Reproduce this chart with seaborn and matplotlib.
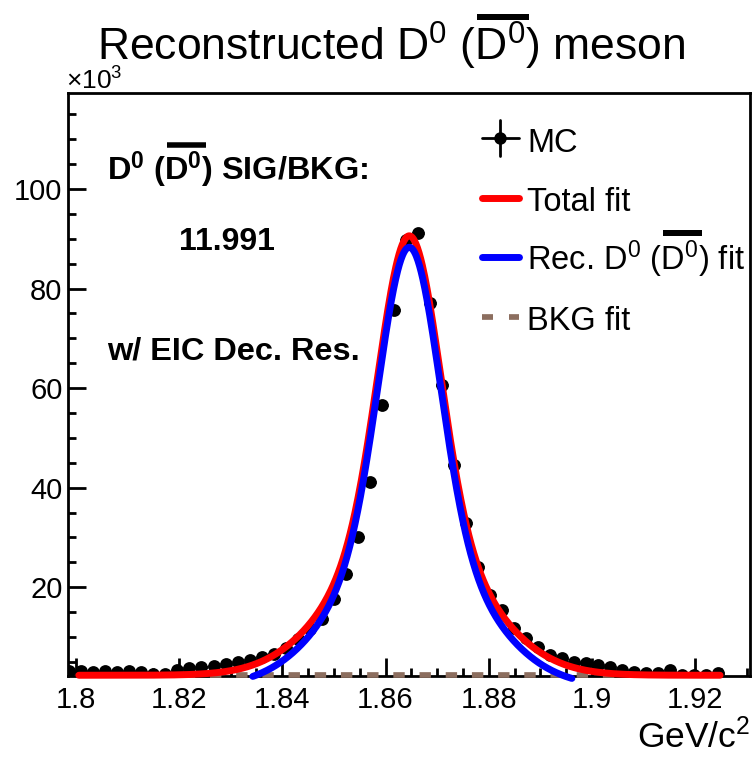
import numpy as np
import pandas as pd
import matplotlib
matplotlib.use("Agg")
import matplotlib.pyplot as plt
import seaborn as sns
from matplotlib.ticker import MultipleLocator, FixedLocator
from matplotlib.lines import Line2D

# ---------------- data (counts in units of 10^3) ----------------
bin_first_center = 1.79875
bin_width = 0.002328
mc_counts = [
    3.2, 3.1, 3.0, 3.1, 3.0, 3.1, 2.9, 2.6, 2.5, 3.3,
    3.8, 3.9, 4.1, 4.5, 4.9, 5.3, 5.9, 6.5, 7.7, 9.5,
    11.6, 13.6, 17.6, 22.6, 30.1, 41.1, 56.6, 75.7, 89.7, 91.2,
    77.1, 60.6, 44.5, 32.9, 24.0, 18.4, 15.4, 11.8, 9.7, 8.0,
    6.3, 5.7, 4.9, 4.7, 4.3, 3.9, 3.3, 2.9, 2.7, 2.7,
    3.3, 2.4, 2.4, 2.4, 2.7,
]

# fit model parameters (double Gaussian signal + flat background)
sig_mean = 1.8646
sig_amp_core = 58.3
sig_sigma_core = 0.00575
sig_amp_wide = 30.0
sig_sigma_wide = 0.0131
bkg_level = 2.3
total_fit_range = (1.8006, 1.9248)
signal_fit_range = (1.8343, 1.8961)
bkg_fit_range = (1.8006, 1.9248)

x_limits = (1.7985, 1.9306)
y_limits = (2.15, 119.4)
x_major_ticks = [1.80, 1.82, 1.84, 1.86, 1.88, 1.90, 1.92]
x_tick_labels = ["1.8", "1.82", "1.84", "1.86", "1.88", "1.9", "1.92"]
y_major_ticks = [20, 40, 60, 80, 100]
y_tick_labels = ["20", "40", "60", "80", "100"]

# text pieces: (prefix before the barred symbol, barred symbol, suffix)
title_parts = ["Reconstructed D$^{0}$ (", "D$^{0}$", ") meson"]
sigbkg_parts = [r"D$^{\mathbf{0}}$ (", r"D$^{\mathbf{0}}$", ") SIG/BKG:"]
sigbkg_value = "11.991"
res_label = "w/ EIC Dec. Res."
legend_labels = ["MC", "Total fit", None, "BKG fit"]
rec_parts = ["Rec. D$^{0}$ (", "D$^{0}$", ") fit"]

# ---------------- style ----------------
sns.set_style("ticks")
plt.rcParams['font.family'] = ['Liberation Sans', 'DejaVu Sans']
plt.rcParams['mathtext.fontset'] = 'custom'
plt.rcParams['mathtext.rm'] = 'Liberation Sans'
plt.rcParams['mathtext.bf'] = 'Liberation Sans:bold'
plt.rcParams['mathtext.it'] = 'Liberation Sans:italic'
for k in ['text.color', 'axes.labelcolor', 'xtick.color', 'ytick.color', 'axes.edgecolor']:
    plt.rcParams[k] = 'black'

W, H = 756, 759
fig = plt.figure(figsize=(W / 100, H / 100), dpi=100)
fig.patch.set_facecolor("white")
renderer = fig.canvas.get_renderer()


def fx(px):
    return px / W


def fy(py):
    return 1 - py / H


ax_left, ax_right, ax_top, ax_bottom = 68, 750, 92.5, 676
ax = fig.add_axes([fx(ax_left), fy(ax_bottom), (ax_right - ax_left) / W, (ax_bottom - ax_top) / H])
ax.set_facecolor("white")

# ---------------- data frame ----------------
centers = bin_first_center + bin_width * np.arange(len(mc_counts))
counts = np.array(mc_counts)
errs = np.sqrt(counts * 1000.0) / 1000.0
df = pd.DataFrame({"mass": centers, "counts": counts})

# MC points with error bars
ax.errorbar(df["mass"], df["counts"], xerr=bin_width / 2, yerr=errs, fmt="none",
            ecolor="black", elinewidth=2.0, capsize=0, zorder=2)
sns.scatterplot(data=df, x="mass", y="counts", ax=ax, color="black", s=85,
                edgecolor="black", linewidth=0, zorder=3, legend=False)


def signal(x):
    return (sig_amp_core * np.exp(-0.5 * ((x - sig_mean) / sig_sigma_core) ** 2)
            + sig_amp_wide * np.exp(-0.5 * ((x - sig_mean) / sig_sigma_wide) ** 2))


def background(x):
    return np.full_like(x, bkg_level)


xb = np.linspace(*bkg_fit_range, 400)
xt = np.linspace(*total_fit_range, 800)
xs = np.linspace(*signal_fit_range, 600)

sns.lineplot(x=xb, y=background(xb), ax=ax, color="#8c6e5f", linewidth=4.1, zorder=4)
bkg_line = ax.lines[-1]
bkg_line.set_dashes([2.0, 2.6])
bkg_line.set_dash_capstyle("butt")
bkg_line.set_clip_on(False)

sns.lineplot(x=xt, y=signal(xt) + background(xt), ax=ax, color="#ff0000", linewidth=5.0, zorder=5)
ax.lines[-1].set_clip_on(False)
sns.lineplot(x=xs, y=signal(xs), ax=ax, color="#0000ff", linewidth=5.0, zorder=6)
ax.lines[-1].set_clip_on(False)

# ---------------- axes ----------------
ax.set_xlim(*x_limits)
ax.set_ylim(*y_limits)
ax.set_xlabel("")
ax.set_ylabel("")
ax.xaxis.set_major_locator(FixedLocator(x_major_ticks))
ax.set_xticklabels(x_tick_labels)
ax.xaxis.set_minor_locator(MultipleLocator(0.005))
ax.yaxis.set_major_locator(FixedLocator(y_major_ticks))
ax.set_yticklabels(y_tick_labels)
ax.yaxis.set_minor_locator(MultipleLocator(5))
ax.tick_params(axis="both", which="both", direction="in", top=False, right=False,
               color="black", width=2.0, labelcolor="black")
ax.tick_params(axis="both", which="major", length=13, labelsize=21)
ax.tick_params(axis="both", which="minor", length=6)
ax.tick_params(axis="x", which="major", pad=7)
ax.tick_params(axis="y", which="major", pad=4)
for sp in ax.spines.values():
    sp.set_visible(True)
    sp.set_linewidth(2.0)
    sp.set_color("black")


# ---------------- texts ----------------
def width_of(s, **kw):
    t = fig.text(0, 0, s, **kw)
    bb = t.get_window_extent(renderer)
    t.remove()
    return bb.width


def barred_text(x_left, baseline, parts, bar_y, bar_h, bar_pad=(0, 0), **kw):
    full = "".join(parts)
    fig.text(fx(x_left), fy(baseline), full, ha="left", va="baseline", **kw)
    w_pre = width_of(parts[0], **kw)
    w_bar = width_of(parts[1], **kw)
    x0 = x_left + w_pre + bar_pad[0]
    x1 = x_left + w_pre + w_bar + bar_pad[1]
    fig.add_artist(Line2D([fx(x0), fx(x1)], [fy(bar_y)] * 2, color="black",
                          lw=bar_h * 0.72, solid_capstyle="butt"))


barred_text(97, 61, title_parts, bar_y=17, bar_h=6, bar_pad=(1, 2), fontsize=32)
fig.text(fx(66), fy(90), r"$\times$10$^{3}$", fontsize=19, ha="left", va="baseline")
fig.text(fx(750), fy(748), r"GeV/c$^{2}$", fontsize=25.5, ha="right", va="baseline")

barred_text(107, 180, sigbkg_parts, bar_y=144.5, bar_h=5.5, bar_pad=(1, 2),
            fontsize=23.4, fontweight="bold")
fig.text(fx(226.5), fy(250), sigbkg_value, fontsize=23, fontweight="bold", ha="center", va="baseline")
fig.text(fx(107), fy(360), res_label, fontsize=23.4, fontweight="bold", ha="left", va="baseline")

# ---------------- legend (manual) ----------------
hx0, hx1, hxc = 482, 519, 500
tx = 527
rows = [138, 198, 257, 317]
baselines = [152, 211, 270, 330]
fig.add_artist(Line2D([fx(hx0), fx(hx1)], [fy(rows[0])] * 2, color="black", lw=2.0))
fig.add_artist(Line2D([fx(hxc)] * 2, [fy(120), fy(156)], color="black", lw=2.0))
fig.add_artist(Line2D([fx(hxc)], [fy(rows[0])], color="black", marker="o", markersize=9,
                      markeredgewidth=0))
fig.add_artist(Line2D([fx(hx0), fx(hx1)], [fy(rows[1])] * 2, color="#ff0000", lw=5.0))
fig.add_artist(Line2D([fx(hx0), fx(hx1)], [fy(rows[2])] * 2, color="#0000ff", lw=5.0))
fig.add_artist(Line2D([fx(482), fx(493)], [fy(rows[3])] * 2, color="#8c6e5f", lw=4.1,
                      solid_capstyle="butt"))
fig.add_artist(Line2D([fx(509), fx(519)], [fy(rows[3])] * 2, color="#8c6e5f", lw=4.1,
                      solid_capstyle="butt"))
for lab, b in zip(legend_labels, baselines):
    if lab is not None:
        fig.text(fx(tx), fy(b), lab, fontsize=23.5, ha="left", va="baseline")
barred_text(tx, baselines[2], rec_parts, bar_y=233, bar_h=6, bar_pad=(1, 2), fontsize=23.5)

fig.savefig("out.png", dpi=100, facecolor="white")
